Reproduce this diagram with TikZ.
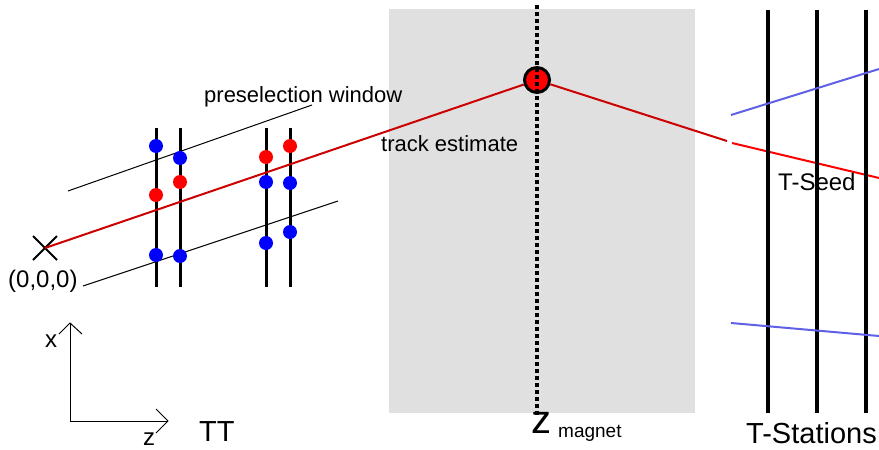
\documentclass[tikz,border=0pt]{standalone}
\usepackage{fontspec}
\setmainfont{Liberation Sans}
\begin{document}
\begin{tikzpicture}[x=1pt,y=-1pt,
  lbl/.style={inner sep=0pt,anchor=base west,font=\fontsize{22}{22}\selectfont},
  lblb/.style={inner sep=0pt,anchor=base west,font=\fontsize{24}{24}\selectfont},
  big/.style={inner sep=0pt,anchor=base west,font=\fontsize{29}{29}\selectfont},
  ttline/.style={line width=3pt},
  tsline/.style={line width=3.5pt},
  winline/.style={line width=1pt},
  bdot/.style={circle,fill=blue,inner sep=0pt,minimum size=14pt},
  rdot/.style={circle,fill=red,inner sep=0pt,minimum size=14pt},
  magdots/.style={line width=3.5pt,dash pattern=on 3.5pt off 3.5pt},
  axis/.style={line width=1pt}]
\definecolor{darkred}{RGB}{204,0,0}
\definecolor{magbg}{RGB}{224,224,224}
\definecolor{seedblue}{RGB}{96,96,230}
\useasboundingbox (0,0) rectangle (879,450);
% magnet region
\fill[magbg] (389,9) rectangle (695,413);
\coordinate (mtop) at (537,5);
\coordinate (mbot) at (537,418);
\draw[magdots] (mtop) -- (mbot);
% TT stations
\foreach \xx/\nm in {156/a,180/b,266/c,290/d}{
  \coordinate (tt\nm t) at (\xx,128);
  \coordinate (tt\nm b) at (\xx,287);
  \draw[ttline] (tt\nm t) -- (tt\nm b);
}
% preselection window
\coordinate (w1a) at (68,191); \coordinate (w1b) at (312,105);
\coordinate (w2a) at (83,286); \coordinate (w2b) at (338,201);
\draw[winline] (w1a) -- (w1b);
\draw[winline] (w2a) -- (w2b);
% origin cross
\coordinate (o) at (45,248);
\coordinate (c1) at (33,236); \coordinate (c2) at (57,260);
\coordinate (c3) at (33,260); \coordinate (c4) at (57,236);
\draw[line width=2pt] (c1) -- (c2);
\draw[line width=2pt] (c3) -- (c4);
% magnet point
\node[circle,draw=black,line width=3pt,fill=red,minimum size=25pt,inner sep=0pt] (mag) at (537,80) {};
\coordinate (mi1) at (537,68);
\coordinate (mi2) at (537,93);
\draw[magdots] (mi1) -- (mi2);
% track estimate
\coordinate (te) at (727,141);
\draw[darkred,line width=2pt] (o) -- (mag);
\draw[darkred,line width=2pt] (mag) -- (te);
\coordinate (sa) at (732,143); \coordinate (sb) at (879,178);
\draw[red,line width=2pt] (sa) -- (sb);
% dots
\node[bdot] (d1) at (156,146) {};
\node[rdot] (d2) at (156,195) {};
\node[bdot] (d3) at (156,255) {};
\node[bdot] (d4) at (180,158) {};
\node[rdot] (d5) at (180,182) {};
\node[bdot] (d6) at (180,256) {};
\node[rdot] (d7) at (266,157) {};
\node[bdot] (d8) at (266,182) {};
\node[bdot] (d9) at (266,243) {};
\node[rdot] (d10) at (290,146) {};
\node[bdot] (d11) at (290,183) {};
\node[bdot] (d12) at (290,232) {};
% T stations
\foreach \xx/\nm in {768/a,817/b,866/c}{
  \coordinate (ts\nm t) at (\xx,10);
  \coordinate (ts\nm b) at (\xx,413);
  \draw[tsline] (ts\nm t) -- (ts\nm b);
}
\coordinate (u1) at (731,115); \coordinate (u2) at (879,69);
\coordinate (l1) at (731,323); \coordinate (l2) at (879,336);
\draw[seedblue,line width=2pt] (u1) -- (u2);
\draw[seedblue,line width=2pt] (l1) -- (l2);
% axes
\coordinate (ax0) at (70,421);
\coordinate (axx) at (70,323);
\coordinate (axz) at (168,421);
\draw[axis] (ax0) -- (axx);
\draw[axis] (ax0) -- (axz);
\coordinate (xa1) at (59,334); \coordinate (xa2) at (82,334);
\draw[axis] (xa1) -- (axx) -- (xa2);
\coordinate (za1) at (156,409); \coordinate (za2) at (156,433);
\draw[axis] (za1) -- (axz) -- (za2);
% labels
\node[lbl] (pw) at (204,102) {preselection window};
\node[lbl] (tel) at (381,151) {track estimate};
\node[lblb] (orig) at (8,287) {(0,0,0)};
\node[lblb] (ts) at (778,190) {T-Seed};
\node[lblb] (xl) at (45,347) {x};
\node[lblb] (zl) at (143,445) {z};
\node[big] (ttl) at (199,441) {TT};
\node[big] (tsl) at (746,443) {T-Stations};
\node[inner sep=0pt,anchor=base west,font=\fontsize{40}{40}\selectfont] (zm) at (531,433) {z};
\node[inner sep=0pt,anchor=base west,font=\fontsize{19}{19}\selectfont] (zmag) at (558,437) {magnet};
\end{tikzpicture}
\end{document}
